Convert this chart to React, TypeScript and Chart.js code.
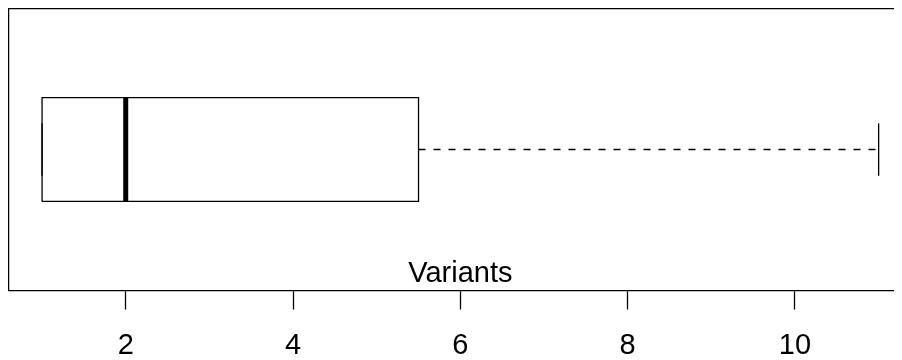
import React, { useEffect, useRef } from "react";
import { Chart, registerables } from "chart.js";

Chart.register(...registerables);

// ---- data ----
const categories = ["Variants"];
const lowerWhisker = [1];
const q1 = [1];
const median = [2];
const q3 = [5.5];
const upperWhisker = [11];
const xTicks = [2, 4, 6, 8, 10];
const xRange = [0.6, 11.4];

// ---- styling ----
const FONT = "'Liberation Sans', Arial, Helvetica, sans-serif";
const BOX_CENTER = 0.5;
const BOX_HALF = 0.184;
const STAPLE_HALF = 0.093;
const LW = 1.3;

export default function App() {
  const ref = useRef<HTMLCanvasElement | null>(null);

  useEffect(() => {
    document.documentElement.style.overflow = "hidden";
    const canvas = ref.current;
    if (!canvas) return;
    const i = 0;
    const lo = BOX_CENTER - BOX_HALF;
    const hi = BOX_CENTER + BOX_HALF;
    const seg = (pts: { x: number; y: number }[], extra: any = {}) => ({
      data: pts,
      showLine: true,
      pointRadius: 0,
      borderColor: "#000",
      borderWidth: LW,
      fill: false,
      tension: 0,
      borderCapStyle: "butt",
      borderJoinStyle: "miter",
      ...extra,
    });

    const frame = {
      id: "frame",
      afterDraw(chart: any) {
        const { ctx, chartArea } = chart;
        ctx.save();
        ctx.strokeStyle = "#000";
        ctx.lineWidth = LW;
        ctx.beginPath();
        ctx.moveTo(chartArea.left, chartArea.bottom);
        ctx.lineTo(chartArea.left, chartArea.top);
        ctx.lineTo(chartArea.right, chartArea.top);
        ctx.stroke();
        ctx.fillStyle = "#000";
        ctx.font = `29px ${FONT}`;
        ctx.textAlign = "center";
        ctx.textBaseline = "alphabetic";
        ctx.fillText(
          categories[0],
          (chartArea.left + chartArea.right) / 2,
          chartArea.bottom - 8.5
        );
        ctx.restore();
      },
    };

    const chart = new Chart(canvas, {
      type: "scatter",
      data: {
        datasets: [
          seg([
            { x: q1[i], y: lo },
            { x: q3[i], y: lo },
            { x: q3[i], y: hi },
            { x: q1[i], y: hi },
            { x: q1[i], y: lo },
          ]),
          seg(
            [
              { x: median[i], y: lo },
              { x: median[i], y: hi },
            ],
            { borderWidth: 5 }
          ),
          seg(
            [
              { x: q3[i], y: BOX_CENTER },
              { x: upperWhisker[i], y: BOX_CENTER },
            ],
            { borderDash: [7, 8] }
          ),
          seg(
            [
              { x: lowerWhisker[i], y: BOX_CENTER },
              { x: q1[i], y: BOX_CENTER },
            ],
            { borderDash: [7, 8] }
          ),
          seg([
            { x: upperWhisker[i], y: BOX_CENTER - STAPLE_HALF },
            { x: upperWhisker[i], y: BOX_CENTER + STAPLE_HALF },
          ]),
          seg([
            { x: lowerWhisker[i], y: BOX_CENTER - STAPLE_HALF },
            { x: lowerWhisker[i], y: BOX_CENTER + STAPLE_HALF },
          ]),
        ],
      },
      options: {
        animation: false,
        responsive: false,
        devicePixelRatio: 1,
        layout: { padding: { left: 0.6, right: 1.9, top: 0.5, bottom: 0 } },
        plugins: {
          legend: { display: false },
          tooltip: { enabled: false },
          title: { display: false },
        },
        scales: {
          x: {
            type: "linear",
            min: xRange[0],
            max: xRange[1],
            afterBuildTicks: (scale: any) => {
              scale.ticks = xTicks.map((v) => ({ value: v }));
            },
            afterFit: (scale: any) => {
              scale.height = 69.5;
            },
            grid: {
              display: true,
              drawOnChartArea: false,
              drawTicks: true,
              tickLength: 19,
              tickWidth: LW,
              tickColor: "#000",
              color: "#000",
            },
            border: { display: true, color: "#000", width: LW },
            ticks: {
              color: "#000",
              font: { family: FONT, size: 29 },
              padding: 19,
              maxRotation: 0,
              autoSkip: false,
              callback: (v: any) => String(v),
            },
          },
          y: {
            type: "linear",
            display: false,
            min: 0,
            max: 1,
          },
        },
      },
      plugins: [frame],
    } as any);

    return () => chart.destroy();
  }, []);

  return (
    <div style={{ width: 894, height: 352, overflow: "hidden" }}>
      <canvas ref={ref} width={906} height={352} style={{ display: "block" }} />
    </div>
  );
}
